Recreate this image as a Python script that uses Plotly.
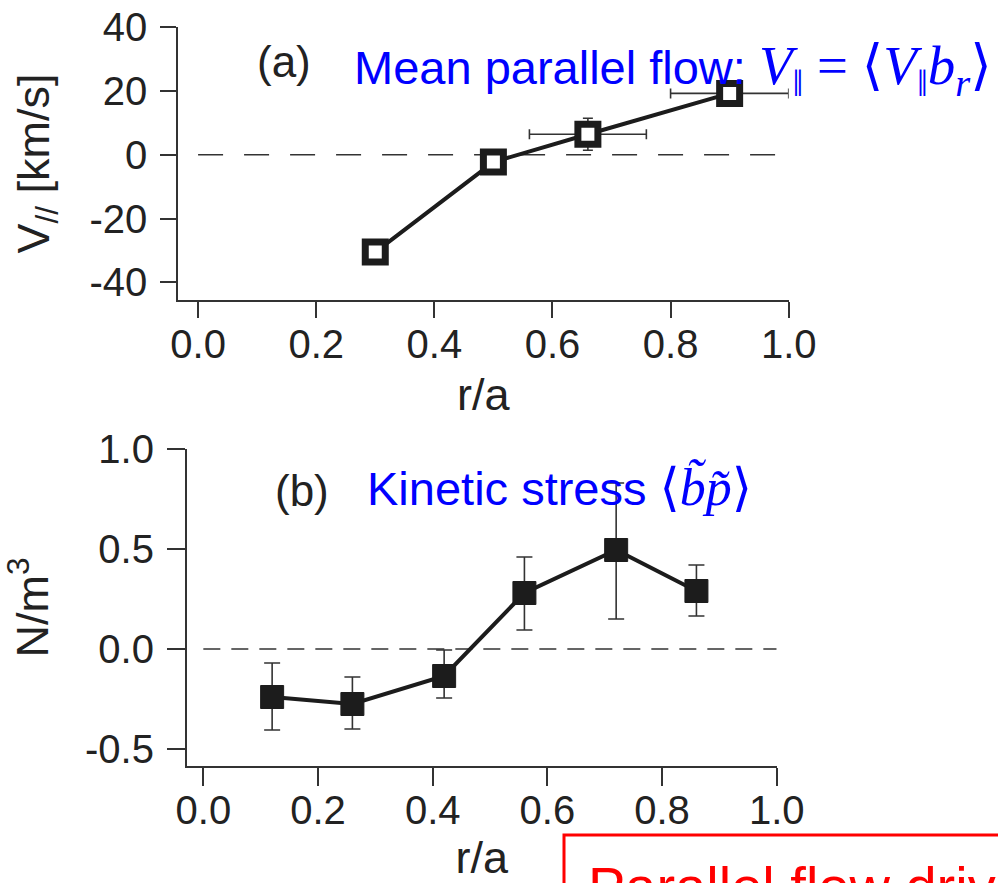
import plotly.graph_objects as go

# ---------------- data ----------------
# panel (a): mean parallel flow
ra_a = [0.30, 0.50, 0.66, 0.90]
v_par = [-30.5, -2.3, 6.4, 19.2]
v_err_y = [0.0, 0.0, 5.0, 2.0]
ra_a_err = [0.0, 0.0, 0.099, 0.10]

# panel (b): kinetic stress
ra_b = [0.12, 0.26, 0.42, 0.56, 0.72, 0.86]
stress = [-0.24, -0.275, -0.135, 0.28, 0.495, 0.29]
stress_err_plus = [0.17, 0.135, 0.13, 0.18, 0.335, 0.13]
stress_err_minus = [0.165, 0.125, 0.11, 0.185, 0.345, 0.125]

a_yticks = [-40, -20, 0, 20, 40]
a_yticklabels = ["-40", "-20", "0", "20", "40"]
b_yticks = [-0.5, 0.0, 0.5, 1.0]
b_yticklabels = ["-0.5", "0.0", "0.5", "1.0"]
xticks = [0.0, 0.2, 0.4, 0.6, 0.8, 1.0]
xticklabels = ["0.0", "0.2", "0.4", "0.6", "0.8", "1.0"]

zero_a_extent = [0.0, 0.983]
zero_b_extent = [0.0, 1.0]
# ---------------------------------------

W, H = 998, 883
INK = "#1c1c1c"
AX = "#333333"
FONT = "Liberation Sans, Arial, Helvetica, sans-serif"
SERIF = "Liberation Serif, DejaVu Serif, serif"

fig = go.Figure()

fig.add_trace(go.Scatter(
    x=ra_a, y=v_par, mode="lines+markers", xaxis="x", yaxis="y",
    line=dict(color=INK, width=4),
    marker=dict(symbol="square", size=20, color="white", line=dict(color=INK, width=7)),
    error_x=dict(type="data", array=ra_a_err, visible=True, color=AX, thickness=1.6, width=5),
    error_y=dict(type="data", array=v_err_y, visible=True, color=AX, thickness=1.6, width=5),
    showlegend=False, hoverinfo="skip",
))

fig.add_trace(go.Scatter(
    x=ra_b, y=stress, mode="lines+markers", xaxis="x2", yaxis="y2",
    line=dict(color=INK, width=4),
    marker=dict(symbol="square", size=23, color=INK, line=dict(color=INK, width=1)),
    error_y=dict(type="data", array=stress_err_plus, arrayminus=stress_err_minus,
                 visible=True, color=AX, thickness=1.6, width=8),
    showlegend=False, hoverinfo="skip",
))

tickfont = dict(family=FONT, size=40, color="#222")
titlefont = dict(family=FONT, size=45, color="#222")

common_x = dict(
    showgrid=False, zeroline=False, showline=True, linecolor=AX, linewidth=1.6,
    ticks="outside", tickcolor=AX, tickwidth=1.6,
    tickvals=xticks, ticktext=xticklabels, tickfont=tickfont,
)
common_y = dict(
    showgrid=False, zeroline=False, showline=True, linecolor=AX, linewidth=1.6,
    ticks="outside", tickcolor=AX, tickwidth=1.6, tickfont=tickfont,
)

fig.update_layout(
    width=W, height=H,
    margin=dict(l=0, r=0, t=0, b=0, autoexpand=False),
    paper_bgcolor="white", plot_bgcolor="white",
    xaxis=dict(common_x, domain=[178 / W, 788.7 / W], range=[-0.034, 1.0], anchor="y",
               ticklen=16, ticklabelstandoff=-8,
               title=dict(text="r/a", font=titlefont, standoff=14)),
    yaxis=dict(common_y, domain=[1 - 300 / H, 1 - 27 / H], range=[-45.5, 40], anchor="x",
               ticklen=16, ticklabelstandoff=5, tickvals=a_yticks, ticktext=a_yticklabels,
               title=dict(text="V<sub>//</sub> [km/s]", font=titlefont, standoff=26)),
    xaxis2=dict(common_x, domain=[186.7 / W, 776.7 / W], range=[-0.029, 1.0], anchor="y2",
                ticklen=18, ticklabelstandoff=-10,
                title=dict(text="r/a", font=titlefont, standoff=44)),
    yaxis2=dict(common_y, domain=[1 - 766 / H, 1 - 449 / H], range=[-0.585, 1.0], anchor="x2",
                ticklen=18, ticklabelstandoff=5, tickvals=b_yticks, ticktext=b_yticklabels,
                title=dict(text="N/m<sup>3</sup>", font=titlefont, standoff=24)),
)

# dashed zero lines
fig.add_shape(type="line", xref="x", yref="y", x0=zero_a_extent[0], x1=zero_a_extent[1], y0=0, y1=0,
              line=dict(color=AX, width=1.6, dash="25px,21px"), layer="below")
fig.add_shape(type="line", xref="x2", yref="y2", x0=zero_b_extent[0], x1=zero_b_extent[1], y0=0, y1=0,
              line=dict(color=AX, width=1.6, dash="17px,11px"), layer="below")

# panel labels
fig.add_annotation(text="(a)", xref="paper", yref="paper", x=284 / W, y=1 - 61 / H,
                   xanchor="center", yanchor="middle", showarrow=False,
                   font=dict(family=FONT, size=44, color="#222"))
fig.add_annotation(text="(b)", xref="paper", yref="paper", x=302 / W, y=1 - 491 / H,
                   xanchor="center", yanchor="middle", showarrow=False,
                   font=dict(family=FONT, size=44, color="#222"))

# blue descriptions
blue_a = ('Mean parallel flow: <span style="font-family:' + SERIF + ';font-size:55px">'
          '<i>V</i><sub>‖</sub> = '
          '⟨<i>V</i><sub>‖</sub><i>b</i><sub><i>r</i></sub>⟩</span>')
fig.add_annotation(text=blue_a, xref="paper", yref="paper", x=352 / W, y=1 - 70 / H,
                   xanchor="left", yanchor="middle", showarrow=False,
                   font=dict(family=FONT, size=47, color="#0000ff"))
blue_b = ('Kinetic stress <span style="font-family:' + SERIF + ';font-size:52px">'
          '⟨<i>b\u0303p\u0303</i>⟩</span>')
fig.add_annotation(text=blue_b, xref="paper", yref="paper", x=365 / W, y=1 - 487 / H,
                   xanchor="left", yanchor="middle", showarrow=False,
                   font=dict(family=FONT, size=47, color="#0000ff"))

# red callout box (continues past the picture edge)
fig.add_shape(type="rect", xref="paper", yref="paper", x0=564 / W, x1=1.05, y0=1 - 835 / H, y1=-0.1,
              line=dict(color="#ff0000", width=3), fillcolor="rgba(0,0,0,0)")
fig.add_annotation(text="Parallel flow driv", xref="paper", yref="paper", x=586 / W, y=1 - 853 / H,
                   xanchor="left", yanchor="top", showarrow=False,
                   font=dict(family=FONT, size=56, color="#ff0000"))

fig.write_html("out.html")
